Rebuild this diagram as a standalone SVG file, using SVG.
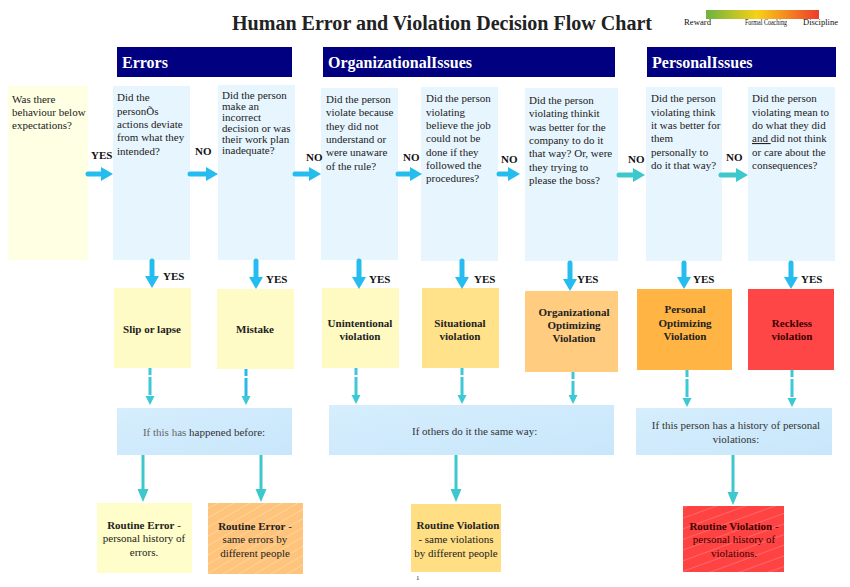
<svg xmlns="http://www.w3.org/2000/svg" width="850" height="587" viewBox="0 0 850 587">
<style>
text{font-family:"Liberation Serif","Times New Roman",serif;fill:#222;}
.q{font-size:11px;}
.lbl{font-size:11px;font-weight:bold;fill:#111;}
.res{font-size:11px;font-weight:bold;fill:#222;text-anchor:middle;}
.hdr{font-size:16px;font-weight:bold;fill:#fff;}
.cond{font-size:11px;fill:#333;}
.fin{font-size:11px;text-anchor:middle;}
.b{font-weight:bold;}
.leg{font-size:8px;fill:#111;}
.qbox{fill:#E7F5FE;}
.hbox{fill:#000080;}
.cbox{fill:url(#cg);}
.ab{stroke:#25BDF0;stroke-width:5;stroke-linecap:round;fill:none;}
.at{stroke:#3CC8CC;stroke-width:5;stroke-linecap:round;fill:none;}
.ad{stroke:#3CC8D4;stroke-width:3;fill:none;stroke-dasharray:7,2,18,2;}
.al{stroke:#3CC8CC;stroke-width:3;fill:none;}
</style>
<defs>
<linearGradient id="lg" x1="0" y1="0" x2="1" y2="0">
<stop offset="0" stop-color="#6DB33F"/>
<stop offset="0.45" stop-color="#F7D117"/>
<stop offset="1" stop-color="#EE3B2B"/>
</linearGradient>
<linearGradient id="cg" x1="0" y1="0" x2="1" y2="1">
<stop offset="0" stop-color="#D6EEFD"/>
<stop offset="1" stop-color="#C8E6FB"/>
</linearGradient>
<pattern id="stripeO" patternUnits="userSpaceOnUse" width="8" height="8" patternTransform="rotate(-30)">
<rect width="8" height="8" fill="#FFC47C"/>
<line x1="0" y1="0" x2="8" y2="0" stroke="#FFD9A6" stroke-width="1.5"/>
</pattern>
<pattern id="stripeR" patternUnits="userSpaceOnUse" width="10" height="10" patternTransform="rotate(-20)">
<rect width="10" height="10" fill="#FF4343"/>
<line x1="0" y1="0" x2="10" y2="0" stroke="#FF8A8A" stroke-width="1"/>
</pattern>
<marker id="hb" markerUnits="userSpaceOnUse" orient="auto" overflow="visible" refX="0" refY="0" markerWidth="1" markerHeight="1"><path d="M-1,-7 L11,0 L-1,7 z" fill="#25BDF0"/></marker>
<marker id="ht" markerUnits="userSpaceOnUse" orient="auto" overflow="visible" refX="0" refY="0" markerWidth="1" markerHeight="1"><path d="M-1,-7 L11,0 L-1,7 z" fill="#3CC8CC"/></marker>
<marker id="hd" markerUnits="userSpaceOnUse" orient="auto" overflow="visible" refX="0" refY="0" markerWidth="1" markerHeight="1"><path d="M-1,-4.5 L8,0 L-1,4.5 z" fill="#3CC8D4"/></marker>
<marker id="hl" markerUnits="userSpaceOnUse" orient="auto" overflow="visible" refX="0" refY="0" markerWidth="1" markerHeight="1"><path d="M-1,-5.5 L12,0 L-1,5.5 z" fill="#3CC8CC"/></marker>
</defs>
<rect width="850" height="587" fill="#fff"/>

<g id="title">
<text x="232" y="30" font-size="20" font-weight="bold" fill="#111" textLength="420" lengthAdjust="spacingAndGlyphs">Human Error and Violation Decision Flow Chart</text>
</g>
<g id="legend">
<rect x="706" y="10" width="113" height="9" fill="url(#lg)"/>
<text class="leg" x="684" y="25" textLength="27" lengthAdjust="spacingAndGlyphs">Reward</text>
<text class="leg" x="745" y="25" textLength="42" lengthAdjust="spacingAndGlyphs">Formal Coaching</text>
<text class="leg" x="803" y="25" textLength="35" lengthAdjust="spacingAndGlyphs">Discipline</text>
</g>

<g id="hdr-errors"><rect class="hbox" x="117" y="47" width="175" height="30"/><text class="hdr" x="122" y="68">Errors</text></g>
<g id="hdr-org"><rect class="hbox" x="323" y="47" width="292" height="30"/><text class="hdr" x="328" y="68">OrganizationalIssues</text></g>
<g id="hdr-personal"><rect class="hbox" x="647" y="47" width="189" height="30"/><text class="hdr" x="652" y="68">PersonalIssues</text></g>

<g id="q0"><rect x="8" y="86" width="80" height="174" fill="#FFFFE3"/>
<text class="q" x="12"><tspan x="12" y="103">Was there</tspan><tspan x="12" y="116">behaviour  below</tspan><tspan x="12" y="129">expectations?</tspan></text></g>
<g id="q1"><rect class="qbox" x="113" y="86" width="77" height="174"/>
<text class="q"><tspan x="117" y="101">Did the</tspan><tspan x="117" y="115">personÕs</tspan><tspan x="117" y="128">actions deviate</tspan><tspan x="117" y="141">from what they</tspan><tspan x="117" y="155">intended?</tspan></text></g>
<g id="q2"><rect class="qbox" x="218" y="85" width="77" height="175"/>
<text class="q"><tspan x="222" y="99">Did the person</tspan><tspan x="222" y="110">make an</tspan><tspan x="222" y="121">incorrect</tspan><tspan x="222" y="132">decision or was</tspan><tspan x="222" y="143">their work plan</tspan><tspan x="222" y="154">inadequate?</tspan></text></g>
<g id="q3"><rect class="qbox" x="321" y="88" width="77" height="172"/>
<text class="q"><tspan x="326" y="103">Did the person</tspan><tspan x="326" y="116">violate because</tspan><tspan x="326" y="130">they did not</tspan><tspan x="326" y="143">understand or</tspan><tspan x="326" y="156">were unaware</tspan><tspan x="326" y="170">of the rule?</tspan></text></g>
<g id="q4"><rect class="qbox" x="421" y="87" width="77" height="174"/>
<text class="q"><tspan x="426" y="102">Did the person</tspan><tspan x="426" y="116">violating</tspan><tspan x="426" y="129">believe the job</tspan><tspan x="426" y="142">could not be</tspan><tspan x="426" y="156">done if they</tspan><tspan x="426" y="169">followed the</tspan><tspan x="426" y="182">procedures?</tspan></text></g>
<g id="q5"><rect class="qbox" x="525" y="88" width="93" height="173"/>
<text class="q"><tspan x="529" y="104">Did the person</tspan><tspan x="529" y="117">violating thinkit</tspan><tspan x="529" y="131">was better for the</tspan><tspan x="529" y="144">company to do it</tspan><tspan x="529" y="157">that way? Or, were</tspan><tspan x="529" y="171">they trying to</tspan><tspan x="529" y="184">please the boss?</tspan></text></g>
<g id="q6"><rect class="qbox" x="646" y="87" width="76" height="174"/>
<text class="q"><tspan x="651" y="102">Did the person</tspan><tspan x="651" y="116">violating think</tspan><tspan x="651" y="129">it was better for</tspan><tspan x="651" y="142">them</tspan><tspan x="651" y="156">personally to</tspan><tspan x="651" y="169">do it that way?</tspan></text></g>
<g id="q7"><rect class="qbox" x="748" y="87" width="87" height="174"/>
<text class="q"><tspan x="752" y="102">Did the person</tspan><tspan x="752" y="116">violating mean to</tspan><tspan x="752" y="129">do what they did</tspan><tspan x="752" y="142"><tspan text-decoration="underline">and </tspan>did not think</tspan><tspan x="752" y="156">or care about the</tspan><tspan x="752" y="169">consequences?</tspan></text></g>

<g id="r1"><rect x="114" y="288" width="77" height="80" fill="#FFFBC6"/><text class="res" x="152" y="333">Slip or lapse</text></g>
<g id="r2"><rect x="217" y="289" width="77" height="80" fill="#FFFBC6"/><text class="res" x="255" y="333">Mistake</text></g>
<g id="r3"><rect x="322" y="288" width="77" height="80" fill="#FFFAC2"/><text class="res"><tspan x="360" y="327">Unintentional</tspan><tspan x="360" y="340">violation</tspan></text></g>
<g id="r4"><rect x="422" y="288" width="77" height="80" fill="#FFE28A"/><text class="res"><tspan x="460" y="327">Situational</tspan><tspan x="460" y="340">violation</tspan></text></g>
<g id="r5"><rect x="525" y="291" width="93" height="81" fill="#FFCC80"/><text class="res"><tspan x="574" y="316">Organizational</tspan><tspan x="574" y="329">Optimizing</tspan><tspan x="574" y="342">Violation</tspan></text></g>
<g id="r6"><rect x="637" y="289" width="95" height="81" fill="#FFB444"/><text class="res"><tspan x="685" y="313">Personal</tspan><tspan x="685" y="327">Optimizing</tspan><tspan x="685" y="340">Violation</tspan></text></g>
<g id="r7"><rect x="748" y="289" width="86" height="81" fill="#FF4646"/><text class="res" style="fill:#3a0000"><tspan x="792" y="327">Reckless</tspan><tspan x="792" y="340">violation</tspan></text></g>

<g id="c1"><rect class="cbox" x="117" y="408" width="175" height="47"/><text class="cond" x="204" y="436" text-anchor="middle"><tspan fill="#666">If this has</tspan> happened before:</text></g>
<g id="c2"><rect class="cbox" x="329" y="405" width="285" height="50"/><text class="cond" x="412" y="435">If others do it the same way:</text></g>
<g id="c3"><rect class="cbox" x="636" y="408" width="196" height="47"/><text class="cond" text-anchor="middle"><tspan x="736" y="429">If this person has a history of personal</tspan><tspan x="736" y="443">violations:</tspan></text></g>

<g id="f1"><rect x="97" y="503" width="95" height="70" fill="#FFFDC9"/><text class="fin"><tspan x="144" y="529"><tspan class="b">Routine Error</tspan> -</tspan><tspan x="144" y="542">personal history of</tspan><tspan x="144" y="556">errors.</tspan></text></g>
<g id="f2"><rect x="208" y="503" width="95" height="71" fill="url(#stripeO)"/><text class="fin"><tspan x="255" y="530"><tspan class="b">Routine Error</tspan> -</tspan><tspan x="255" y="543">same errors by</tspan><tspan x="255" y="557">different people</tspan></text></g>
<g id="f3"><rect x="411" y="504" width="90" height="68" fill="#FFDE84"/><text class="fin"><tspan x="458" y="529" class="b">Routine Violation</tspan><tspan x="456" y="543">- same violations</tspan><tspan x="456" y="557">by different people</tspan></text></g>
<g id="f4"><rect x="683" y="506" width="101" height="66" fill="url(#stripeR)"/><text class="fin" style="fill:#3a0000"><tspan x="734" y="530"><tspan class="b">Routine Violation</tspan>  -</tspan><tspan x="734" y="543">personal history of</tspan><tspan x="734" y="557">violations.</tspan></text></g>

<g id="labels">
<text class="lbl" x="91" y="159">YES</text>
<text class="lbl" x="195" y="155">NO</text>
<text class="lbl" x="306" y="161">NO</text>
<text class="lbl" x="403" y="161">NO</text>
<text class="lbl" x="501" y="163">NO</text>
<text class="lbl" x="628" y="163">NO</text>
<text class="lbl" x="726" y="161">NO</text>
<text class="lbl" x="163" y="280">YES</text>
<text class="lbl" x="266" y="283">YES</text>
<text class="lbl" x="369" y="283">YES</text>
<text class="lbl" x="474" y="283">YES</text>
<text class="lbl" x="577" y="283">YES</text>
<text class="lbl" x="693" y="283">YES</text>
<text class="lbl" x="801" y="283">YES</text>
<text x="416" y="580" font-size="7">1</text>
</g>

<g id="connectors">
<line class="ab" x1="88" y1="174" x2="102" y2="174" marker-end="url(#hb)"/>
<line class="ab" x1="190" y1="174" x2="207" y2="174" marker-end="url(#hb)"/>
<line class="ab" x1="295" y1="174" x2="310" y2="174" marker-end="url(#hb)"/>
<line class="ab" x1="398" y1="174" x2="411" y2="174" marker-end="url(#hb)"/>
<line class="ab" x1="499" y1="174" x2="509" y2="174" marker-end="url(#hb)"/>
<line class="at" x1="619" y1="175" x2="634" y2="175" marker-end="url(#ht)"/>
<line class="at" x1="721" y1="175" x2="737" y2="175" marker-end="url(#ht)"/>

<line class="ab" x1="152" y1="261" x2="152" y2="277" marker-end="url(#hb)"/>
<line class="ab" x1="256" y1="261" x2="256" y2="278" marker-end="url(#hb)"/>
<line class="ab" x1="359" y1="261" x2="359" y2="278" marker-end="url(#hb)"/>
<line class="ab" x1="462" y1="261" x2="462" y2="278" marker-end="url(#hb)"/>
<line class="ab" x1="570" y1="263" x2="570" y2="280" marker-end="url(#hb)"/>
<line class="ab" x1="684" y1="263" x2="684" y2="278" marker-end="url(#hb)"/>
<line class="ab" x1="791" y1="263" x2="791" y2="278" marker-end="url(#hb)"/>

<line class="ad" x1="150" y1="368" x2="150" y2="397" marker-end="url(#hd)"/>
<line class="ad" x1="246" y1="369" x2="246" y2="397" marker-end="url(#hd)" style="stroke:#2AB8E8"/>
<line class="ad" x1="356" y1="368" x2="356" y2="396" marker-end="url(#hd)"/>
<line class="ad" x1="462" y1="368" x2="462" y2="396" marker-end="url(#hd)"/>
<line class="ad" x1="573" y1="372" x2="573" y2="396" marker-end="url(#hd)"/>
<line class="ad" x1="687" y1="370" x2="687" y2="399" marker-end="url(#hd)"/>
<line class="ad" x1="792" y1="370" x2="792" y2="399" marker-end="url(#hd)"/>

<line class="al" x1="143" y1="455" x2="143" y2="490" marker-end="url(#hl)"/>
<line class="al" x1="261" y1="455" x2="261" y2="490" marker-end="url(#hl)"/>
<line class="al" x1="456" y1="455" x2="456" y2="490" marker-end="url(#hl)"/>
<line class="al" x1="733" y1="455" x2="733" y2="493" marker-end="url(#hl)"/>
</g>
</svg>
